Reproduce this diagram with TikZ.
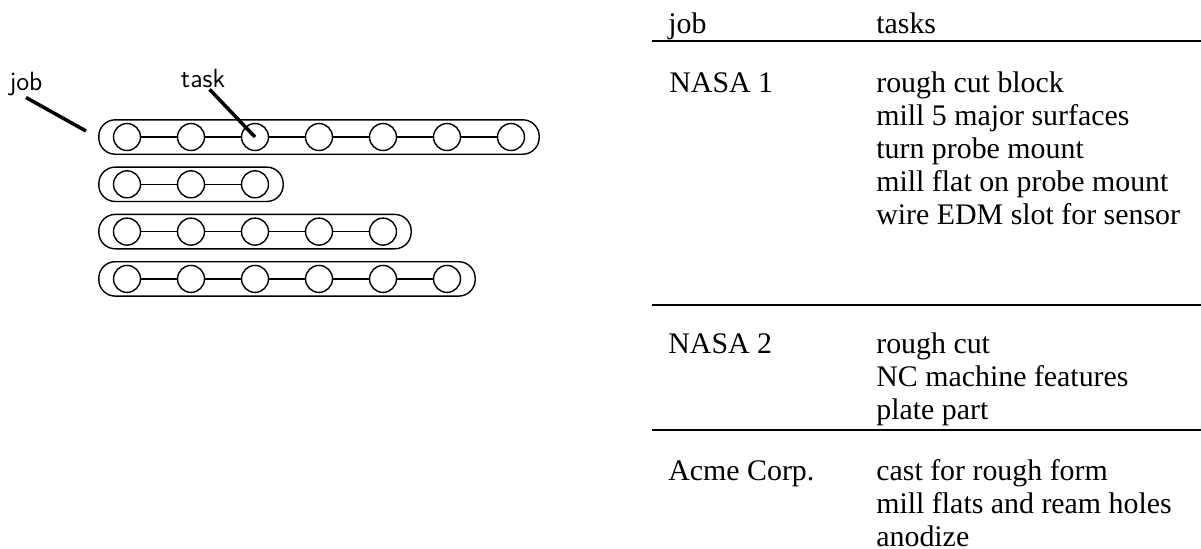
\documentclass[tikz,border=0pt]{standalone}
\usepackage{fontspec}
\setmainfont{Liberation Serif}
\usetikzlibrary{fit}

\begin{document}
\begin{tikzpicture}[node distance=1.28cm]

\tikzstyle{tk} = [circle, minimum size=0.54cm, inner sep=0pt, draw=black, line width=0.8pt]
\tikzstyle{jb} = [rectangle, rounded corners=0.33cm, inner xsep=0.28cm, inner ysep=0.06cm, draw=black, line width=0.8pt]
\tikzstyle{lbl} = [font=\fontsize{15}{18}\selectfont\sffamily, inner sep=1pt]
\tikzstyle{ptr} = [line width=2pt]
\tikzstyle{cell} = [anchor=base west, inner sep=0pt, font=\fontsize{17}{18.8}\selectfont]
\tikzstyle{rule} = [line width=0.9pt]

\useasboundingbox (0,0) rectangle (24.02,-10.96);

% first job: seven tasks
\node (r1c1) [tk] at (2.54,-2.74) {};
\node (r1c2) [tk, right of=r1c1] {};
\node (r1c3) [tk, right of=r1c2] {};
\node (r1c4) [tk, right of=r1c3] {};
\node (r1c5) [tk, right of=r1c4] {};
\node (r1c6) [tk, right of=r1c5] {};
\node (r1c7) [tk, right of=r1c6] {};
% second job: three tasks
\node (r2c1) [tk, below of=r1c1, yshift=0.334cm] {};
\node (r2c2) [tk, right of=r2c1] {};
\node (r2c3) [tk, right of=r2c2] {};
% third job: five tasks
\node (r3c1) [tk, below of=r2c1, yshift=0.334cm] {};
\node (r3c2) [tk, right of=r3c1] {};
\node (r3c3) [tk, right of=r3c2] {};
\node (r3c4) [tk, right of=r3c3] {};
\node (r3c5) [tk, right of=r3c4] {};
% fourth job: six tasks
\node (r4c1) [tk, below of=r3c1, yshift=0.334cm] {};
\node (r4c2) [tk, right of=r4c1] {};
\node (r4c3) [tk, right of=r4c2] {};
\node (r4c4) [tk, right of=r4c3] {};
\node (r4c5) [tk, right of=r4c4] {};
\node (r4c6) [tk, right of=r4c5] {};

\draw [line width=0.8pt] (r1c1)--(r1c2)--(r1c3)--(r1c4)--(r1c5)--(r1c6)--(r1c7);
\draw [line width=0.8pt] (r2c1)--(r2c2)--(r2c3);
\draw [line width=0.8pt] (r3c1)--(r3c2)--(r3c3)--(r3c4)--(r3c5);
\draw [line width=0.8pt] (r4c1)--(r4c2)--(r4c3)--(r4c4)--(r4c5)--(r4c6);

\node (job1) [jb, fit=(r1c1)(r1c7)] {};
\node (job2) [jb, fit=(r2c1)(r2c3)] {};
\node (job3) [jb, fit=(r3c1)(r3c5)] {};
\node (job4) [jb, fit=(r4c1)(r4c6)] {};

% pointers
\node (jobl) [lbl, anchor=base] at (0.52,-1.80) {job};
\node (taskl) [lbl, anchor=base] at (4.06,-1.74) {task};
\coordinate (jobtip) at (1.72,-2.62);
\draw [ptr] (jobl.south) -- (jobtip);
\draw [ptr] (taskl.300) -- (r1c3.center);

% table of jobs
\node (hjob) [cell] at (13.36,-0.66) {job};
\node (htask) [cell] at (17.52,-0.66) {tasks};
\draw [rule] (13.04,-0.82) -- (24.02,-0.82);

\node (j1) [cell] at (13.38,-1.84) {NASA 1};
\node (t1) [cell] at (17.52,-1.84) {\vtop{\hbox{rough cut block}\hbox{mill 5 major surfaces}\hbox{turn probe mount}\hbox{mill flat on probe mount}\hbox{wire EDM slot for sensor}}};
\draw [rule] (13.04,-6.10) -- (24.02,-6.10);

\node (j2) [cell] at (13.36,-7.06) {NASA 2};
\node (t2) [cell] at (17.52,-7.06) {\vtop{\hbox{rough cut}\hbox{NC machine features}\hbox{plate part}}};
\draw [rule] (13.04,-8.60) -- (24.02,-8.60);

\node (j3) [cell] at (13.36,-9.60) {Acme Corp.};
\node (t3) [cell] at (17.52,-9.60) {\vtop{\hbox{cast for rough form}\hbox{mill flats and ream holes}\hbox{anodize}}};

\end{tikzpicture}
\end{document}
